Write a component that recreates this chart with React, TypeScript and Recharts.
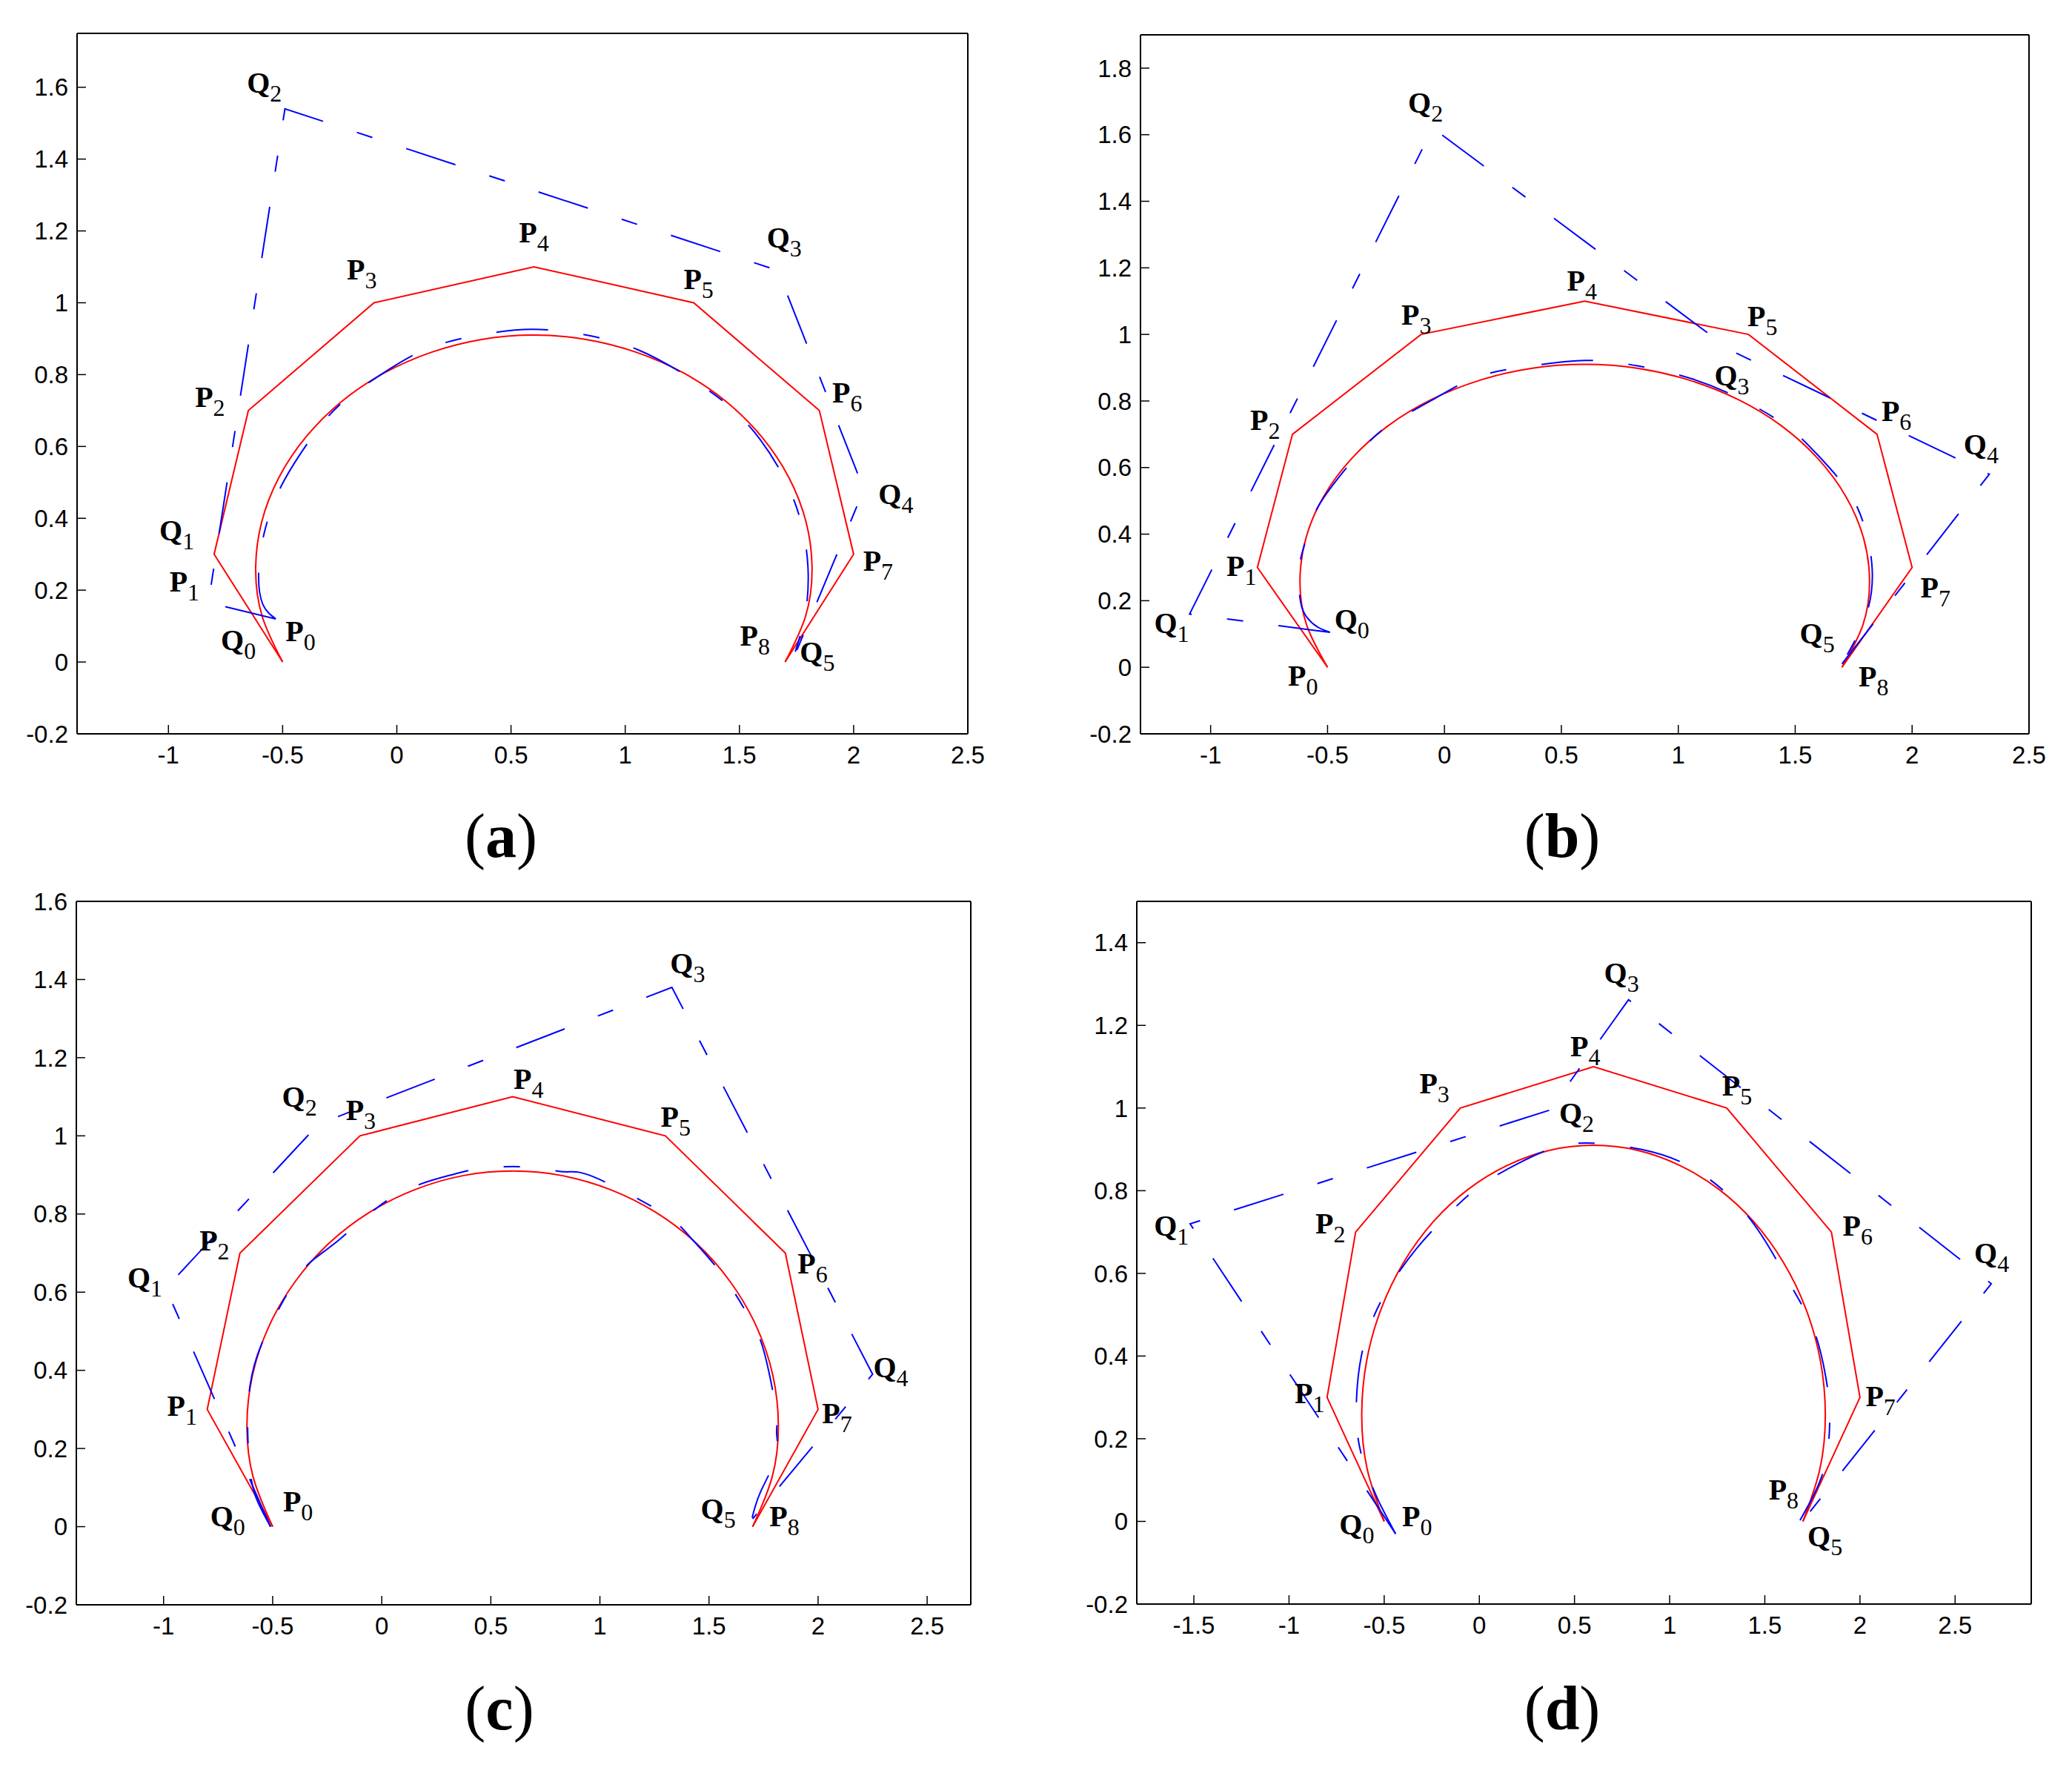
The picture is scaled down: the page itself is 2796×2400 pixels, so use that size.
import { Scatter, ScatterChart, XAxis, YAxis } from "recharts";

// control polygon P0..P8 (same in every panel)
const pX = [-0.5, -0.8, -0.65, -0.1, 0.6, 1.3, 1.85, 2.0, 1.7];
const pY = [0, 0.3, 0.7, 1.0, 1.1, 1.0, 0.7, 0.3, 0];

// red curve
const redX = [-0.5, -0.589, -0.618, -0.592, -0.516, -0.397, -0.242, -0.057, 0.15, 0.371, 0.6, 0.829, 1.05, 1.257, 1.442, 1.597, 1.716, 1.792, 1.818, 1.789, 1.7];
const redY = [0, 0.126, 0.258, 0.389, 0.514, 0.627, 0.725, 0.804, 0.862, 0.898, 0.91, 0.898, 0.862, 0.804, 0.725, 0.627, 0.514, 0.389, 0.258, 0.126, 0];

// Q polygons
const qaX = [-0.53, -0.825, -0.49, 1.668, 2.045, 1.73];
const qaY = [0.12, 0.165, 1.54, 1.09, 0.48, 0.0];
const qbX = [-0.49, -1.09, -0.05, 1.23, 2.33, 1.7];
const qbY = [0.105, 0.16, 1.62, 0.95, 0.58, 0.01];
const qcX = [-0.51, -0.99, -0.29, 1.33, 2.25, 1.7];
const qcY = [0.0, 0.61, 1.03, 1.38, 0.39, 0.02];
const qdX = [-0.44, -1.52, 0.37, 0.784, 2.69, 1.645];
const qdY = [-0.03, 0.72, 0.995, 1.262, 0.575, -0.03];

// blue dashed curves
const blueAX = [-0.53, -0.587, -0.605, -0.581, -0.513, -0.395, -0.255, -0.07, 0.133, 0.36, 0.592, 0.83, 1.053, 1.26, 1.444, 1.59, 1.705, 1.775, 1.801, 1.785, 1.73];
const blueAY = [0.12, 0.161, 0.246, 0.358, 0.481, 0.605, 0.713, 0.8, 0.872, 0.91, 0.926, 0.91, 0.87, 0.8, 0.718, 0.62, 0.5, 0.376, 0.249, 0.123, 0];
const blueBX = [-0.49, -0.545, -0.587, -0.615, -0.622, -0.594, -0.539, -0.4, -0.257, -0.06, 0.142, 0.37, 0.6, 0.83, 1.061, 1.27, 1.466, 1.6, 1.735, 1.805, 1.83, 1.8, 1.7];
const blueBY = [0.105, 0.122, 0.149, 0.195, 0.295, 0.38, 0.484, 0.615, 0.718, 0.8, 0.873, 0.905, 0.922, 0.905, 0.866, 0.805, 0.723, 0.635, 0.52, 0.4, 0.28, 0.15, 0.01];
const blueCX = [-0.51, -0.574, -0.604, -0.615, -0.604, -0.551, -0.43, -0.331, -0.187, 0.055, 0.312, 0.464, 0.669, 0.839, 0.971, 1.275, 1.409, 1.56, 1.69, 1.755, 1.807, 1.81, 1.807, 1.737, 1.698];
const blueCY = [0.0, 0.071, 0.146, 0.259, 0.36, 0.467, 0.599, 0.675, 0.738, 0.845, 0.899, 0.917, 0.92, 0.908, 0.895, 0.807, 0.744, 0.645, 0.53, 0.442, 0.297, 0.24, 0.178, 0.09, 0.023];
const blueDX = [-0.44, -0.53, -0.6, -0.64, -0.645, -0.62, -0.56, -0.47, -0.33, -0.17, 0.0, 0.2, 0.4, 0.6, 0.85, 1.1, 1.33, 1.5, 1.65, 1.76, 1.82, 1.84, 1.835, 1.8, 1.73, 1.645];
const blueDY = [-0.03, 0.05, 0.13, 0.21, 0.3, 0.4, 0.49, 0.57, 0.66, 0.74, 0.81, 0.865, 0.905, 0.915, 0.9, 0.86, 0.78, 0.68, 0.56, 0.46, 0.35, 0.27, 0.19, 0.11, 0.04, -0.03];

// ticks
const xTicksABC = [-1, -0.5, 0, 0.5, 1, 1.5, 2, 2.5];
const xTicksD = [-1.5, -1, -0.5, 0, 0.5, 1, 1.5, 2, 2.5];
const yTicksA = [-0.2, 0, 0.2, 0.4, 0.6, 0.8, 1, 1.2, 1.4, 1.6];
const yTicksB = [-0.2, 0, 0.2, 0.4, 0.6, 0.8, 1, 1.2, 1.4, 1.6, 1.8];
const yTicksC = [-0.2, 0, 0.2, 0.4, 0.6, 0.8, 1, 1.2, 1.4, 1.6];
const yTicksD = [-0.2, 0, 0.2, 0.4, 0.6, 0.8, 1, 1.2, 1.4];

// point labels: letter, index, x, y (label centre)
const labelsA: [string, number, number, number][] = [
	["P", 0, -0.422, 0.072], ["P", 1, -0.93, 0.211], ["P", 2, -0.818, 0.725], ["P", 3, -0.153, 1.079],
	["P", 4, 0.6, 1.182], ["P", 5, 1.321, 1.053], ["P", 6, 1.972, 0.736], ["P", 7, 2.107, 0.268], ["P", 8, 1.568, 0.061],
	["Q", 0, -0.694, 0.047], ["Q", 1, -0.963, 0.354], ["Q", 2, -0.58, 1.6], ["Q", 3, 1.696, 1.168],
	["Q", 4, 2.185, 0.454], ["Q", 5, 1.841, 0.015],
];
const labelsB: [string, number, number, number][] = [
	["P", 0, -0.605, -0.039], ["P", 1, -0.868, 0.291], ["P", 2, -0.767, 0.729], ["P", 3, -0.12, 1.044],
	["P", 4, 0.588, 1.147], ["P", 5, 1.36, 1.04], ["P", 6, 1.933, 0.756], ["P", 7, 2.1, 0.226], ["P", 8, 1.835, -0.043],
	["Q", 0, -0.396, 0.13], ["Q", 1, -1.167, 0.119], ["Q", 2, -0.081, 1.681], ["Q", 3, 1.229, 0.863],
	["Q", 4, 2.295, 0.656], ["Q", 5, 1.594, 0.088],
];
const labelsC: [string, number, number, number][] = [
	["P", 0, -0.384, 0.052], ["P", 1, -0.915, 0.297], ["P", 2, -0.767, 0.719], ["P", 3, -0.096, 1.053],
	["P", 4, 0.673, 1.134], ["P", 5, 1.347, 1.037], ["P", 6, 1.975, 0.662], ["P", 7, 2.087, 0.278], ["P", 8, 1.846, 0.014],
	["Q", 0, -0.706, 0.014], ["Q", 1, -1.086, 0.625], ["Q", 2, -0.377, 1.087], ["Q", 3, 1.402, 1.43],
	["Q", 4, 2.333, 0.395], ["Q", 5, 1.542, 0.033],
];
const labelsD: [string, number, number, number][] = [
	["P", 0, -0.327, 0.0], ["P", 1, -0.892, 0.298], ["P", 2, -0.783, 0.709], ["P", 3, -0.236, 1.048],
	["P", 4, 0.557, 1.137], ["P", 5, 1.354, 1.042], ["P", 6, 1.988, 0.703], ["P", 7, 2.108, 0.292], ["P", 8, 1.599, 0.066],
	["Q", 0, -0.644, -0.018], ["Q", 1, -1.618, 0.703], ["Q", 2, 0.511, 0.976], ["Q", 3, 0.747, 1.316],
	["Q", 4, 2.692, 0.637], ["Q", 5, 1.816, -0.048],
];

const zip = (xs: number[], ys: number[]) => xs.map((x, i) => ({ x, y: ys[i] }));
const toTags = (rows: [string, number, number, number][]) =>
	rows.map(([name, sub, x, y]) => ({ name, sub, x, y }));

const RED = "#ff0000";
const BLUE = "#0000ff";
const DASH = "70 48 22 48";
const tickFont = { fill: "#000", fontSize: 33, fontFamily: "'Liberation Sans', Arial, sans-serif" };
const axisLine = { stroke: "#000", strokeWidth: 2 };
const tickLine = { stroke: "#000", strokeWidth: 1.5 };
const fmt = (v: number) => String(v);
const noDot = () => <g />;

function Tag(props: any) {
	const { cx, cy } = props;
	const p = props.payload ?? props;
	return (
		<text x={cx} y={cy + 7} textAnchor="middle" fontFamily="'Liberation Serif', 'Times New Roman', serif" fill="#000">
			<tspan fontWeight="bold" fontSize={40}>{p.name}</tspan>
			<tspan fontSize={32} dy={12}>{p.sub}</tspan>
		</text>
	);
}

type PanelCfg = {
	box: { l: number; t: number; r: number; b: number };
	xDomain: [number, number];
	yDomain: [number, number];
	xTicks: number[];
	yTicks: number[];
	q: { x: number; y: number }[];
	blue: { x: number; y: number }[];
	tags: { name: string; sub: number; x: number; y: number }[];
	caption: string;
	capX: number;
	capTop: number;
};

function Panel({ cfg }: { cfg: PanelCfg }) {
	const { box, xDomain, yDomain, xTicks, yTicks } = cfg;
	const yw = 100; // left axis width
	const mt = 20; // space above the top axis
	const mr = 50; // space right of the right axis
	const xh = 70; // bottom axis height
	const th = 2; // top axis height / right axis width
	const width = box.r - box.l + yw + mr + th;
	const height = box.b - box.t + mt + xh + th;
	const poly = zip(pX, pY);
	const red = zip(redX, redY);
	return (
		<>
			<div style={{ position: "absolute", left: box.l - yw, top: box.t - mt - th }}>
				<ScatterChart width={width} height={height} margin={{ top: mt, right: mr, bottom: 0, left: 0 }}>
					<XAxis xAxisId="b" type="number" dataKey="x" domain={xDomain} ticks={xTicks} allowDataOverflow
						interval={0} height={xh} tickSize={-12} tickMargin={29} axisLine={axisLine} tickLine={tickLine}
						tick={tickFont} tickFormatter={fmt} />
					<XAxis xAxisId="t" orientation="top" type="number" dataKey="x" domain={xDomain} ticks={xTicks}
						allowDataOverflow interval={0} height={th} tickSize={-12} axisLine={axisLine} tickLine={tickLine}
						tick={false} />
					<YAxis yAxisId="l" type="number" dataKey="y" domain={yDomain} ticks={yTicks} allowDataOverflow
						interval={0} width={yw} tickSize={-12} tickMargin={24} axisLine={axisLine} tickLine={tickLine}
						tick={tickFont} tickFormatter={fmt} />
					<YAxis yAxisId="r" orientation="right" type="number" dataKey="y" domain={yDomain} ticks={yTicks}
						allowDataOverflow interval={0} width={th} tickSize={-12} axisLine={axisLine} tickLine={tickLine}
						tick={false} />
					<Scatter xAxisId="t" yAxisId="r" data={poly} shape={noDot} isAnimationActive={false} />
					<Scatter xAxisId="b" yAxisId="l" data={poly} shape={noDot} isAnimationActive={false}
						line={{ stroke: RED, strokeWidth: 2 }} lineJointType="linear" />
					<Scatter xAxisId="b" yAxisId="l" data={red} shape={noDot} isAnimationActive={false}
						line={{ stroke: RED, strokeWidth: 2 }} lineJointType="natural" />
					<Scatter xAxisId="b" yAxisId="l" data={cfg.q} shape={noDot} isAnimationActive={false}
						line={{ stroke: BLUE, strokeWidth: 2, strokeDasharray: DASH }} lineJointType="linear" />
					<Scatter xAxisId="b" yAxisId="l" data={cfg.blue} shape={noDot} isAnimationActive={false}
						line={{ stroke: BLUE, strokeWidth: 2, strokeDasharray: DASH }} lineJointType="natural" />
					<Scatter xAxisId="b" yAxisId="l" data={cfg.tags} shape={(p: any) => <Tag {...p} />}
						isAnimationActive={false} />
				</ScatterChart>
			</div>
			<div
				style={{
					position: "absolute",
					left: cfg.capX - 100,
					top: cfg.capTop,
					width: 200,
					textAlign: "center",
					fontFamily: "'Liberation Serif', 'Times New Roman', serif",
					fontSize: 84,
					lineHeight: "100px",
					color: "#000",
				}}
			>
				(<b>{cfg.caption}</b>)
			</div>
		</>
	);
}

const panels: PanelCfg[] = [
	{
		box: { l: 104, t: 45, r: 1306, b: 990 },
		xDomain: [-1.4, 2.5], yDomain: [-0.2, 1.75], xTicks: xTicksABC, yTicks: yTicksA,
		q: zip(qaX, qaY), blue: zip(blueAX, blueAY), tags: toTags(labelsA), caption: "a", capX: 676, capTop: 1078,
	},
	{
		box: { l: 1539, t: 47, r: 2738, b: 990 },
		xDomain: [-1.3, 2.5], yDomain: [-0.2, 1.9], xTicks: xTicksABC, yTicks: yTicksB,
		q: zip(qbX, qbY), blue: zip(blueBX, blueBY), tags: toTags(labelsB), caption: "b", capX: 2108, capTop: 1078,
	},
	{
		box: { l: 103, t: 1216, r: 1310, b: 2165 },
		xDomain: [-1.4, 2.7], yDomain: [-0.2, 1.6], xTicks: xTicksABC, yTicks: yTicksC,
		q: zip(qcX, qcY), blue: zip(blueCX, blueCY), tags: toTags(labelsC), caption: "c", capX: 674, capTop: 2255,
	},
	{
		box: { l: 1534, t: 1216, r: 2741, b: 2164 },
		xDomain: [-1.8, 2.9], yDomain: [-0.2, 1.5], xTicks: xTicksD, yTicks: yTicksD,
		q: zip(qdX, qdY), blue: zip(blueDX, blueDY), tags: toTags(labelsD), caption: "d", capX: 2108, capTop: 2255,
	},
];

export default function App() {
	return (
		<div style={{ position: "absolute", left: 0, top: 0, width: 2796, height: 2400, background: "#fff" }}>
			{panels.map((cfg) => (
				<Panel key={cfg.caption} cfg={cfg} />
			))}
		</div>
	);
}
